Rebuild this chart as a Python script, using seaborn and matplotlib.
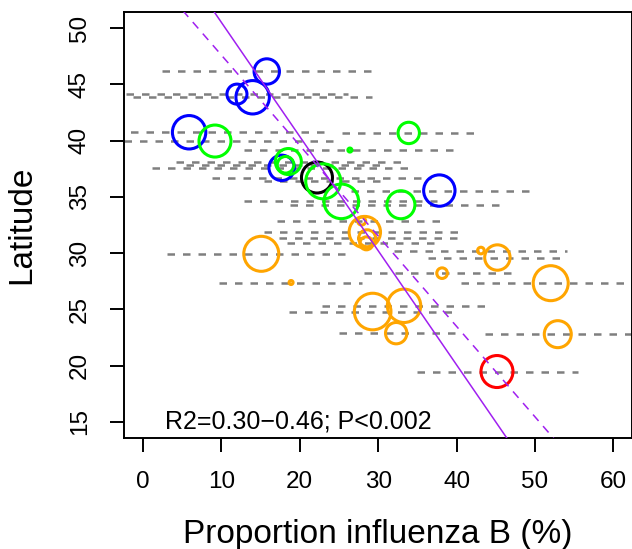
import matplotlib
matplotlib.use("Agg")
import matplotlib.pyplot as plt
import seaborn as sns
import numpy as np
import pandas as pd

# ---------------- data ----------------
group = ["blue"] * 6 + ["black"] + ["green"] * 8 + ["orange"] * 14 + ["red"]
prop_b = [15.8, 12.0, 14.0, 5.9, 17.7, 37.8,
          22.2,
          9.2, 33.9, 26.4, 18.55, 18.2, 23.0, 25.3, 32.9,
          27.9, 28.3, 28.6, 28.5, 15.1, 43.1, 45.2, 38.15, 18.9, 52.0, 33.3, 29.3, 32.3, 52.9,
          45.15]
latitude = [46.14, 44.13, 43.85, 40.74, 37.58, 35.56,
            36.72,
            39.96, 40.68, 39.16, 38.14, 37.85, 36.38, 34.6, 34.3,
            32.85, 31.87, 31.32, 30.87, 29.94, 30.23, 29.61, 28.22, 27.39, 27.33, 25.32, 24.81,
            22.89, 22.8,
            19.48]
ci_low = [2.5, -2.1, -1.3, -11.5, 1.2, 26.5,
          8.8,
          -6.3, 25.4, 12.9, 4.2, 5.5, 15.4, 12.9, 18.8,
          17.1, 15.4, 17.3, 18.4, 3.1, 32.0, 36.3, 28.2, 9.7, 40.5, 22.9, 18.6, 25.0, 43.6,
          34.9]
ci_high = [29.2, 26.1, 29.2, 23.3, 34.1, 49.2,
           36.7,
           24.6, 42.3, 39.9, 32.9, 31.0, 30.3, 37.5, 45.8,
           38.0, 40.3, 40.1, 37.5, 26.1, 54.1, 53.3, 47.1, 28.0, 63.5, 43.9, 39.5, 40.0, 62.2,
           55.5]
# relative sample weight (circle area)
weight = [161, 100, 279, 279, 161, 246,
          240,
          256, 114, 4, 169, 69, 306, 299, 196,
          16, 246, 72, 42, 306, 11, 161, 28, 4, 306, 279, 335, 114, 182,
          256]

fit_intercept = [60.67, 55.65]
fit_slope = [-1.015, -0.804]
fit_style = ["solid", "dashed"]

annotation = "R2=0.30\u22120.46; P<0.002"
x_ticks = [0, 10, 20, 30, 40, 50, 60]
y_ticks = [15, 20, 25, 30, 35, 40, 45, 50]

palette = {"blue": "#0000FF", "black": "#000000", "green": "#00FF00",
           "orange": "#FFA500", "red": "#FF0000"}

df = pd.DataFrame({"group": group, "prop_b": prop_b, "latitude": latitude,
                   "lo": ci_low, "hi": ci_high, "weight": weight})

# ---------------- figure ----------------
sns.set_style("white")
plt.rcParams["font.family"] = ["Liberation Sans", "DejaVu Sans"]

W, H = 632, 549
fig = plt.figure(figsize=(W / 100, H / 100), dpi=100)
ax = fig.add_axes([124 / W, (H - 437.7) / H, (632.3 - 124) / W, (437.7 - 12.3) / H])

# interval lines
ax.hlines(df["latitude"], df["lo"], df["hi"], colors="#7f7f7f", linewidth=1.8,
          linestyles=(0, (3.0, 3.2)), zorder=1)

# circles
wmax = max(weight)
sns.scatterplot(data=df, x="prop_b", y="latitude", hue="group", palette=palette,
                size="weight", sizes=(0, 2.0736 * wmax), size_norm=(0, wmax),
                legend=False, ax=ax, linewidth=0, zorder=2)
coll = ax.collections[-1]
fc = coll.get_facecolors()
coll.set_edgecolors(fc)
coll.set_facecolor("none")
coll.set_linewidth(2.2)

# regression lines
for b0, b1, ls in zip(fit_intercept, fit_slope, fit_style):
    xs = np.array([-5, 70])
    sns.lineplot(x=xs, y=b0 + b1 * xs, color="#A020F0", ax=ax, linewidth=1.1,
                 linestyle="-" if ls == "solid" else (0, (5.5, 4.5)), zorder=3)

ax.set_xlim(-2.4, 62.4)
ax.set_ylim(13.6, 51.4)
ax.set_xticks(x_ticks)
ax.set_yticks(y_ticks)
ax.tick_params(axis="both", direction="out", length=10, width=1.4, labelsize=17.5,
               pad=14, color="black", labelcolor="black")
ax.tick_params(axis="x", bottom=True)
ax.tick_params(axis="y", left=True)
for lab in ax.get_yticklabels():
    lab.set_rotation(90)
    lab.set_va("center")

for sp in ax.spines.values():
    sp.set_visible(True)
    sp.set_color("black")
    sp.set_linewidth(1.4)

ax.text(2.84, 14.4, annotation, fontsize=18, ha="left", va="baseline", color="black")

ax.set_xlabel("Proportion influenza B (%)", fontsize=24, color="black")
ax.set_ylabel("Latitude", fontsize=24, color="black")
ax.xaxis.label.set_verticalalignment("baseline")
ax.xaxis.set_label_coords(0.5, (437.7 - 543) / 425.4)
ax.yaxis.set_label_coords((37 - 124) / 508.3, 0.5)

fig.savefig("out.png", dpi=100)
